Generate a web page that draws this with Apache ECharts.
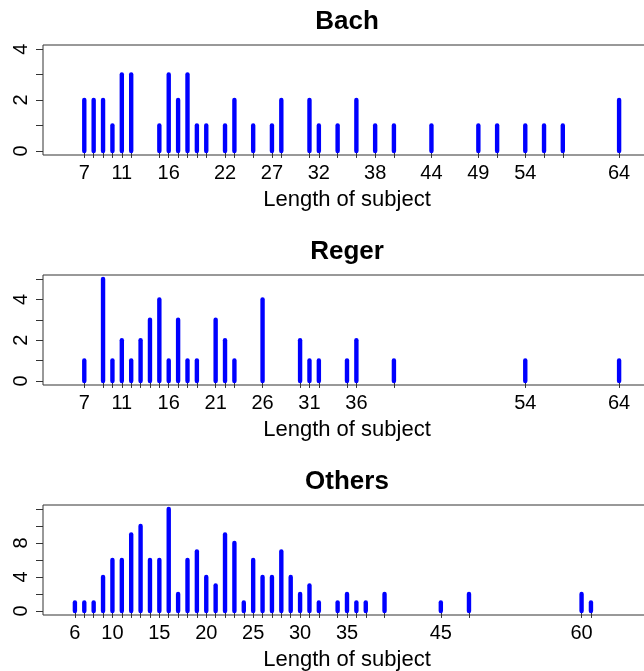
<!DOCTYPE html>
<html>
<head>
<meta charset="utf-8">
<script src="https://cdn.jsdelivr.net/npm/echarts@6/dist/echarts.min.js"></script>
<style>html,body{margin:0;padding:0;background:#fff}#c{width:644px;height:671px}</style>
</head>
<body>
<div id="c"></div>
<script>
// ---- data ----
const panelTitles = ['Bach', 'Reger', 'Others'];

const bachLengths = [7, 8, 9, 10, 11, 12, 15, 16, 17, 18, 19, 20, 22, 23, 25, 27, 28, 31, 32, 34, 36, 38, 40, 44, 49, 51, 54, 56, 58, 64];
const bachCounts  = [2, 2, 2, 1, 3, 3, 1, 3, 2, 3, 1, 1, 1, 2, 1, 1, 2, 2, 1, 1, 2, 1, 1, 1, 1, 1, 1, 1, 1, 2];
const bachXLabels = [7, 11, 16, 22, 27, 32, 38, 44, 49, 54, 64];
const bachYTicks  = [0, 1, 2, 3, 4];
const bachYLabels = [0, 2, 4];

const regerLengths = [7, 9, 10, 11, 12, 13, 14, 15, 16, 17, 18, 19, 21, 22, 23, 26, 30, 31, 32, 35, 36, 40, 54, 64];
const regerCounts  = [1, 5, 1, 2, 1, 2, 3, 4, 1, 3, 1, 1, 3, 2, 1, 4, 2, 1, 1, 1, 2, 1, 1, 1];
const regerXLabels = [7, 11, 16, 21, 26, 31, 36, 54, 64];
const regerYTicks  = [0, 1, 2, 3, 4, 5];
const regerYLabels = [0, 2, 4];

const othersLengths = [6, 7, 8, 9, 10, 11, 12, 13, 14, 15, 16, 17, 18, 19, 20, 21, 22, 23, 24, 25, 26, 27, 28, 29, 30, 31, 32, 34, 35, 36, 37, 39, 45, 48, 60, 61];
const othersCounts  = [1, 1, 1, 4, 6, 6, 9, 10, 6, 6, 12, 2, 6, 7, 4, 3, 9, 8, 1, 6, 4, 4, 7, 4, 2, 3, 1, 1, 2, 1, 1, 2, 1, 2, 2, 1];
const othersXLabels = [6, 10, 15, 20, 25, 30, 35, 45, 60];
const othersYTicks  = [0, 2, 4, 6, 8, 10, 12];
const othersYLabels = [0, 4, 8];

const xName = 'Length of subject';

// ---- build ----
const panels = [
  {title: panelTitles[0], xs: bachLengths, ys: bachCounts, xl: bachXLabels, yt: bachYTicks, yl: bachYLabels, ymax: 4},
  {title: panelTitles[1], xs: regerLengths, ys: regerCounts, xl: regerXLabels, yt: regerYTicks, yl: regerYLabels, ymax: 5},
  {title: panelTitles[2], xs: othersLengths, ys: othersCounts, xl: othersXLabels, yt: othersYTicks, yl: othersYLabels, ymax: 12}
];

const FONT = 'Liberation Sans, Arial, Helvetica, sans-serif';
const LINE = '#333';
const tops = [45, 275, 505];
const gridLeft = 43, gridWidth = 608, gridHeight = 110;
const xMin = 2.6, xMax = 67.4;

const option = {
  animation: false,
  backgroundColor: '#fff',
  grid: [], xAxis: [], yAxis: [], series: [], graphic: []
};

panels.forEach((p, i) => {
  option.grid.push({left: gridLeft, top: tops[i], width: gridWidth, height: gridHeight,
    outerBoundsMode: 'none', containLabel: false,
    show: true, borderColor: LINE, borderWidth: 1, backgroundColor: 'transparent'});
  option.xAxis.push({
    type: 'value', gridIndex: i, min: xMin, max: xMax,
    name: xName, nameLocation: 'middle', nameGap: 34,
    nameTextStyle: {fontFamily: FONT, fontSize: 22, color: '#000'},
    axisLine: {show: false},
    axisTick: {show: true, inside: false, length: 7, customValues: p.xs, lineStyle: {color: LINE, width: 1}},
    axisLabel: {show: true, customValues: p.xl, margin: 8, fontFamily: FONT, fontSize: 20, color: '#000'},
    splitLine: {show: false}
  });
  const pad = p.ymax * 0.04;
  option.yAxis.push({
    type: 'value', gridIndex: i, min: -pad, max: p.ymax + pad,
    axisLine: {show: false},
    axisTick: {show: true, inside: false, length: 7, customValues: p.yt, lineStyle: {color: LINE, width: 1}},
    axisLabel: {show: true, customValues: p.yl, rotate: 90, margin: 12, fontFamily: FONT, fontSize: 20, color: '#000'},
    splitLine: {show: false}
  });
  option.series.push({
    type: 'custom', xAxisIndex: i, yAxisIndex: i,
    data: p.xs.map((x, k) => [x, p.ys[k]]),
    renderItem: function (params, api) {
      const x = api.value(0), y = api.value(1);
      const a = api.coord([x, 0]);
      const b = api.coord([x, y]);
      return {type: 'line', shape: {x1: a[0], y1: a[1], x2: b[0], y2: b[1]},
        style: {stroke: '#0000ff', lineWidth: 4.4, lineCap: 'round'}};
    }
  });
  option.graphic.push({
    type: 'text', x: gridLeft + gridWidth / 2, y: tops[i] - 23,
    style: {text: p.title, align: 'center', verticalAlign: 'middle',
      font: 'bold 26px ' + FONT, fill: '#000'}
  });
});

const chart = echarts.init(document.getElementById('c'), null, {renderer: 'canvas'});
chart.setOption(option);
</script>
</body>
</html>
